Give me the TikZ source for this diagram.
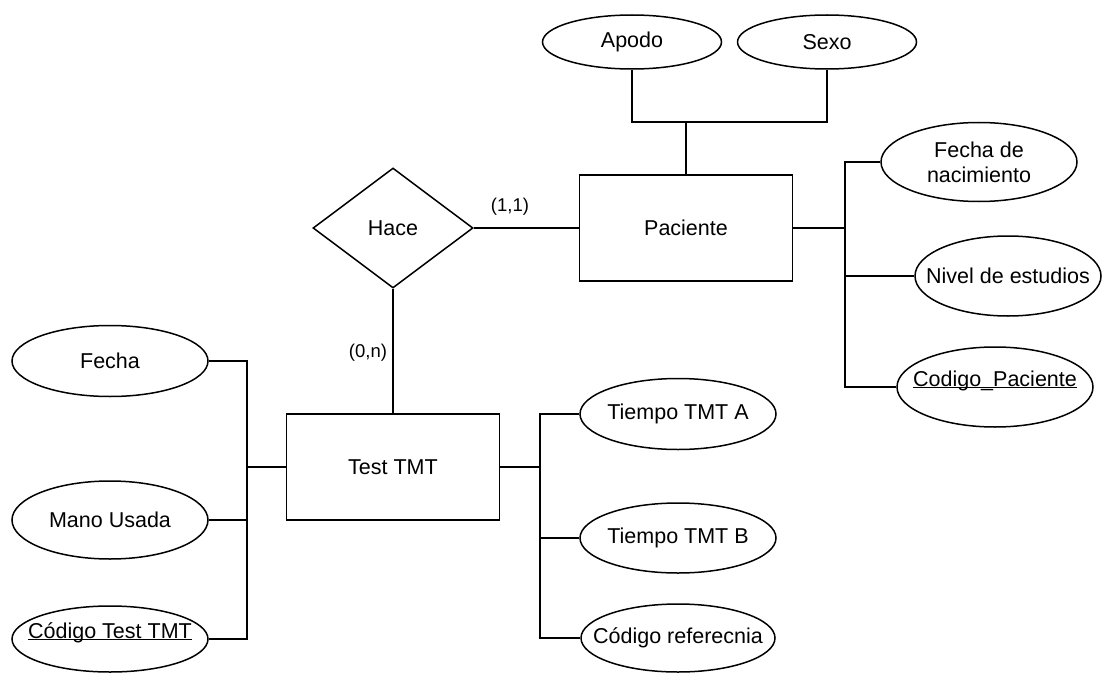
\documentclass[tikz,border=0pt]{standalone}
\usepackage{fontspec}
\setmainfont{Liberation Sans}
\usetikzlibrary{shapes.geometric}

% key attributes are underlined
\newcommand{\keyattr}[1]{\underline{\smash{#1}}}

\tikzset{
  txt/.style={inner sep=0pt, align=center, font=\fontsize{21.5}{25}\selectfont},
  base/.style={draw=black, line width=1.5pt, inner sep=0pt, txt},
  attr/.style={base, ellipse, minimum width=196pt, minimum height=70pt,
    label={[txt]center:#1}},
  entity/.style={base, rectangle, minimum width=213pt, minimum height=106pt},
  relation/.style={base, diamond, minimum width=160pt, minimum height=120pt},
  link/.style={draw=black, line width=1.5pt},
  card/.style={inner sep=0pt, font=\fontsize{18.5}{22}\selectfont}
}

\begin{document}
\begin{tikzpicture}[x=1pt, y=-1pt]
\useasboundingbox (0,0) rectangle (1102,674);

% entities and relationship
\node[entity] (paciente) at (686,228) {Paciente};
\node[entity] (test) at (393,467) {Test TMT};
\node[relation] (hace) at (393,228) {Hace};

% attributes of Paciente
\node[attr={Apodo}, minimum width=179pt, minimum height=54pt] (apodo) at (632,42) {};
\node[attr={Sexo}, minimum width=179pt, minimum height=54pt] (sexo) at (827,42) {};
\node[attr={Fecha de\\nacimiento}, minimum height=79pt] (fnac) at (979,162) {};
\node[attr={Nivel de estudios}, minimum width=186pt, minimum height=80pt] (nivel) at (1008,276) {};
\node[attr={\keyattr{Codigo\_Paciente}}, minimum height=80pt] (codp) at (995,387) {};

% attributes of Test TMT
\node[attr={Fecha}, minimum height=71pt] (fecha) at (110,361) {};
\node[attr={Mano Usada}, minimum height=78pt] (mano) at (110,520) {};
\node[attr={\keyattr{Código Test TMT}}, minimum height=66pt] (codtest) at (110,639) {};
\node[attr={Tiempo TMT A}, minimum height=71pt] (ta) at (678,414) {};
\node[attr={Tiempo TMT B}, minimum height=70pt] (tb) at (678,538) {};
\node[attr={Código referecnia}, minimum width=194pt, minimum height=68pt] (codref) at (678,638) {};

% junction points of the connector buses
\coordinate (jtop) at (686,122);
\coordinate (rbus) at (845,228);
\coordinate (lbus) at (247,467);
\coordinate (tbus) at (540,467);

% Paciente attributes
\draw[link] (apodo.south) |- (jtop) -| (sexo.south);
\draw[link] (jtop) -- (paciente.north);
\draw[link] (paciente.east) -- (rbus);
\draw[link] (fnac.west) -| (rbus);
\draw[link] (codp.west) -| (rbus);
\draw[link] (nivel.west) -- (nivel.west -| rbus);

% relationship
\draw[link] (hace.east) -- (paciente.west);
\draw[link] (hace.south) -- (test.north);
\node[card] (c11) at (510,207) {(1,1)};
\node[card] (c0n) at (368,353) {(0,n)};

% Test TMT attributes
\draw[link] (test.west) -- (lbus);
\draw[link] (fecha.east) -| (lbus);
\draw[link] (codtest.east) -| (lbus);
\draw[link] (mano.east) -- (mano.east -| lbus);
\draw[link] (test.east) -- (tbus);
\draw[link] (ta.west) -| (tbus);
\draw[link] (codref.west) -| (tbus);
\draw[link] (tb.west) -- (tb.west -| tbus);
\end{tikzpicture}
\end{document}
